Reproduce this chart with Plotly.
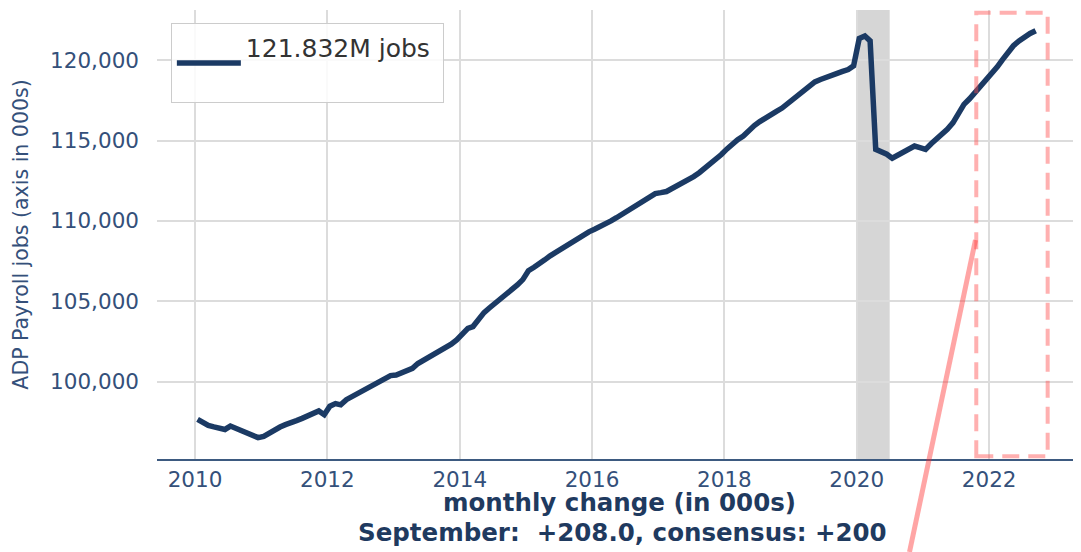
import pandas as pd
import plotly.graph_objects as go

# ---- data ----
months = pd.date_range("2010-01-01", periods=153, freq="MS") + pd.Timedelta(days=14)
payroll = [
    97660, 97420, 97280, 97190, 97150, 97030, 97240, 97110, 96990, 96850, 96700, 96520,
    96600, 96820, 96990, 97180, 97330, 97430, 97580, 97720, 97880, 98050, 98180, 97950,
    98480, 98640, 98560, 98880, 99070, 99240, 99420, 99640, 99850, 100050, 100230, 100380,
    100420, 100560, 100700, 100830, 101130, 101320, 101520, 101760, 101930, 102080, 102330, 102600,
    102950, 103320, 103430, 103900, 104300, 104600, 104860, 105150, 105450, 105760, 106020, 106350,
    106900, 107120, 107300, 107580, 107830, 108050, 108240, 108480, 108750, 108970, 109130, 109320,
    109480, 109630, 109800, 110000, 110200, 110430, 110630, 110850, 111050, 111280, 111500, 111700,
    111760, 111830, 112000, 112170, 112370, 112560, 112760, 113000, 113280, 113540, 113800, 114130,
    114480, 114800, 115050, 115280, 115620, 115930, 116180, 116420, 116620, 116820, 117020, 117280,
    117540, 117850, 118150, 118420, 118650, 118800, 118950, 119080, 119180, 119300, 119420, 119650,
    121350, 121500, 121200, 114450, 114300, 114150, 113900, 114100, 114330, 114500, 114660, 114560,
    114450, 114800, 115050, 115330, 115700, 116100, 116600, 117250, 117600, 117980, 118350, 118780,
    119150, 119580, 120020, 120480, 120900, 121200, 121450, 121660, 121832,
]
legend_label = "121.832M jobs"
y_ticks = [100000, 105000, 110000, 115000, 120000]
x_tick_years = [2010, 2012, 2014, 2016, 2018, 2020, 2022]
recession = ["2020-01-01", "2020-07-01"]
highlight = ["2021-10-22", "2022-11-20"]
caption_1 = "monthly change (in 000s)"
caption_2 = "September:  +208.0, consensus: +200"

FONT = "DejaVu Sans"
NAVY = "#1b3a64"
TICK = "#34507a"

fig = go.Figure()
fig.add_trace(go.Scatter(
    x=months, y=payroll, mode="lines", name=legend_label + " <br> ",
    line=dict(color=NAVY, width=5.5),
))

# recession shading
fig.add_shape(type="rect", xref="x", yref="paper", x0=recession[0], x1=recession[1],
              y0=0, y1=1, fillcolor="rgba(128,128,128,0.32)", line_width=0, layer="between")
# highlight box
fig.add_shape(type="rect", xref="x", yref="paper", x0=highlight[0], x1=highlight[1],
              y0=0.006, y1=0.994, line=dict(color="rgba(255,80,80,0.45)", width=4, dash="17px,9px"),
              fillcolor="rgba(0,0,0,0)")
# connector line to the (cropped) inset
fig.add_shape(type="line", xref="paper", yref="paper", x0=0.8144, y0=-0.2071, x1=0.8858, y1=0.4878,
              line=dict(color="rgba(255,40,40,0.42)", width=5))

fig.add_annotation(text=caption_1, xref="paper", yref="paper", x=0.501, y=-0.0975,
                   xanchor="center", yanchor="middle", showarrow=False,
                   font=dict(family=FONT, size=24.5, color="#1f3a5f", weight="bold"))
fig.add_annotation(text=caption_2, xref="paper", yref="paper", x=0.504, y=-0.1626,
                   xanchor="center", yanchor="middle", showarrow=False,
                   font=dict(family=FONT, size=24.5, color="#1f3a5f", weight="bold"))

# the page body adds an 8px offset, so margins are shifted to compensate
fig.update_layout(
    width=1081, height=552,
    margin=dict(l=149, r=8, t=2, b=101),
    paper_bgcolor="white", plot_bgcolor="white",
    font=dict(family=FONT, color=TICK),
    showlegend=True,
    legend=dict(x=0.015, y=0.971, xanchor="left", yanchor="top",
                bgcolor="rgba(255,255,255,0.85)", bordercolor="#cccccc", borderwidth=1,
                font=dict(family=FONT, size=25, color="#333333"), itemwidth=64),
    xaxis=dict(
        range=["2009-06-05", "2023-05-23"],
        tickvals=[f"{y}-01-01" for y in x_tick_years],
        ticktext=[str(y) for y in x_tick_years],
        showgrid=True, gridcolor="#dcdcdc", gridwidth=1.5,
        showline=True, linecolor="#3d5a80", linewidth=1.6,
        ticks="", zeroline=False,
        tickfont=dict(family=FONT, size=21.5, color=TICK),
    ),
    yaxis=dict(
        range=[95192, 123120],
        tickvals=y_ticks, tickformat=",d",
        showgrid=True, gridcolor="#dcdcdc", gridwidth=1.5,
        showline=False, ticks="", zeroline=False,
        ticklabelstandoff=17,
        tickfont=dict(family=FONT, size=21.5, color=TICK),
        title=dict(text="ADP Payroll jobs (axis in 000s)",
                   font=dict(family=FONT, size=20.5, color=TICK)),
    ),
)

fig.write_html("out.html", config={"displayModeBar": False})
